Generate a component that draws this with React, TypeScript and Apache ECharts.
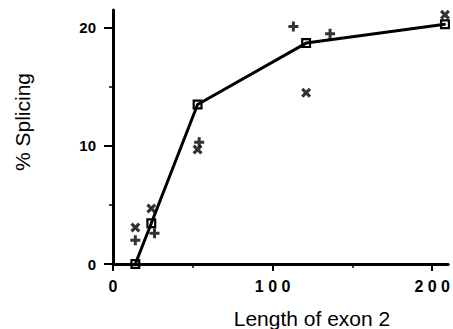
import React, { useEffect, useRef } from "react";
import * as echarts from "echarts";

// exon 2 length (x) and % splicing (y)
const lineX = [14, 24, 53, 121, 208];
const lineY = [0, 3.45, 13.5, 18.7, 20.3];
const plusX = [14, 26, 54, 113, 136];
const plusY = [2.0, 2.6, 10.3, 20.1, 19.5];
const crossX = [14, 24, 53, 121, 208];
const crossY = [3.1, 4.7, 9.7, 14.5, 21.1];
const xMajorTicks = [0, 100, 200];
const xMinorTicks = [50, 150];
const yMajorTicks = [0, 10, 20];
const yMinorTicks = [5, 15];

const SQUARE = "path://M0 0H10V10H0Z M2.2 2.2V7.8H7.8V2.2Z M4 4H6V6H4Z";
const PLUS = "path://M2.8 0H5.2V2.8H8V5.2H5.2V8H2.8V5.2H0V2.8H2.8Z";
const CROSS = "path://M0 1.8L1.8 0L4 2.2L6.2 0L8 1.8L5.8 4L8 6.2L6.2 8L4 5.8L1.8 8L0 6.2L2.2 4Z";

const FONT = "'Liberation Sans', Arial, Helvetica, sans-serif";

const zip = (a: number[], b: number[]) => a.map((v, i) => [v, b[i]]);

export default function App() {
  const ref = useRef<HTMLDivElement>(null);
  useEffect(() => {
    if (!ref.current) return;
    const chart = echarts.init(ref.current, null, { renderer: "svg" });
    chart.setOption({
      animation: false,
      backgroundColor: "#ffffff",
      grid: { left: 113, right: 0, top: 10, bottom: 65, containLabel: false },
      xAxis: [
        {
          type: "value",
          min: 0,
          max: 210,
          interval: 50,
          splitLine: { show: false },
          axisLine: { show: true, lineStyle: { color: "#000", width: 3 } },
          axisTick: { show: true, customValues: xMajorTicks, length: 7, lineStyle: { color: "#000", width: 2 } },
          axisLabel: {
            show: true,
            customValues: xMajorTicks,
            margin: 14,
            color: "#000",
            fontFamily: FONT,
            fontWeight: "bold",
            fontSize: 16,
            formatter: (v: number) => String(v).split("").join(" "),
          },
        },
        {
          type: "value",
          min: 0,
          max: 210,
          interval: 50,
          position: "bottom",
          splitLine: { show: false },
          axisLine: { show: false },
          axisLabel: { show: false },
          axisTick: { show: true, customValues: xMinorTicks, length: 4, lineStyle: { color: "#000", width: 1.5 } },
        },
      ],
      yAxis: [
        {
          type: "value",
          min: 0,
          max: 21.5,
          interval: 5,
          splitLine: { show: false },
          axisLine: { show: true, lineStyle: { color: "#000", width: 3 } },
          axisTick: { show: true, customValues: yMajorTicks, length: 9, lineStyle: { color: "#000", width: 2 } },
          axisLabel: {
            show: true,
            customValues: yMajorTicks,
            margin: 17,
            color: "#000",
            fontFamily: FONT,
            fontWeight: "bold",
            fontSize: 15,
          },
        },
        {
          type: "value",
          min: 0,
          max: 21.5,
          interval: 5,
          position: "left",
          splitLine: { show: false },
          axisLine: { show: false },
          axisLabel: { show: false },
          axisTick: { show: true, customValues: yMinorTicks, length: 4, lineStyle: { color: "#000", width: 1.5 } },
        },
      ],
      graphic: [
        {
          type: "text",
          x: 22,
          y: 122,
          rotation: Math.PI / 2,
          style: {
            text: "% Splicing",
            font: `21px ${FONT}`,
            fill: "#000",
            textAlign: "center",
            textVerticalAlign: "middle",
          },
        },
        {
          type: "text",
          x: 312,
          y: 318,
          style: {
            text: "Length of exon 2",
            font: `21px ${FONT}`,
            fill: "#000",
            textAlign: "center",
            textVerticalAlign: "middle",
          },
        },
      ],
      series: [
        {
          type: "line",
          data: zip(lineX, lineY),
          symbol: SQUARE,
          symbolSize: 10,
          showAllSymbol: true,
          lineStyle: { color: "#000", width: 3 },
          itemStyle: { color: "#000" },
          z: 3,
        },
        {
          type: "scatter",
          data: zip(plusX, plusY),
          symbol: PLUS,
          symbolSize: 10,
          itemStyle: { color: "#000" },
          z: 4,
        },
        {
          type: "scatter",
          data: zip(crossX, crossY),
          symbol: CROSS,
          symbolSize: 10,
          itemStyle: { color: "#000" },
          z: 4,
        },
      ],
    });
    return () => chart.dispose();
  }, []);
  return (
    <div
      ref={ref}
      style={{ position: "fixed", left: 0, top: 0, width: 453, height: 329, background: "#fff" }}
    />
  );
}
